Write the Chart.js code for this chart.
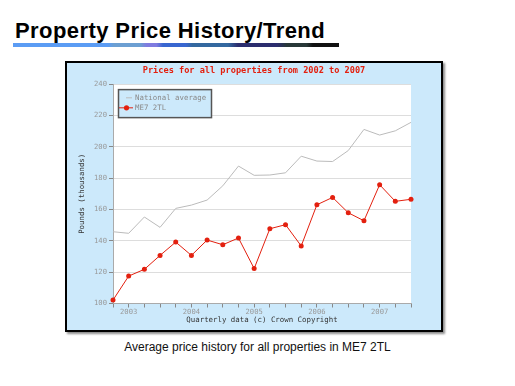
<!DOCTYPE html>
<html lang="en">
<head>
  <meta charset="UTF-8" />
  <title>Property Price History/Trend</title>
  <style>
    body { margin: 0; background: #fff; width: 515px; height: 386px; position: relative; overflow: hidden; }
    #pageTitle {
      position: absolute; left: 15px; top: 20px;
      font: bold 22px/22px "Liberation Sans", Arial, sans-serif; color: #000;
      letter-spacing: 0.42px; white-space: nowrap;
    }
    #rule {
      position: absolute; left: 13px; top: 43px; width: 326px; height: 4px;
      background: linear-gradient(to right,
        #5b9cf4 0%, #5b9cf4 29%, #6c9fd2 31%, #6c9fd2 39%, #7f7be0 41%, #7f7be0 44%,
        #3866d0 46%, #3866d0 53%, #33689f 55%, #33689f 66%, #2b2d6e 69%, #2b2d6e 81%,
        #283838 84%, #283838 90%, #111 92%, #111 100%);
    }
    #frame {
      position: absolute; left: 65px; top: 61px; width: 378px; height: 271px;
      box-sizing: border-box; border: 2px solid #000; background: #cce9fb;
      box-shadow: 2px 2px 2px rgba(0,0,0,0.45);
    }
    #caption {
      position: absolute; left: 0; top: 341px; width: 515px; text-align: center;
      font: 12px/12px "Liberation Sans", Arial, sans-serif; color: #111;
    }
  </style>
</head>
<body>
  <div id="pageTitle">Property Price History/Trend</div>
  <div id="rule"></div>
  <div id="frame"><canvas id="chart" width="374" height="267"></canvas></div>
  <div id="caption">Average price history for all properties in ME7 2TL</div>
  <script src="https://cdn.jsdelivr.net/npm/chart.js@4.4.0/dist/chart.umd.min.js"></script>
  <script>
// quarterly data, Q4 2002 .. Q3 2007
const quarters = ['', '2003', '', '', '', '2004', '', '', '', '2005', '', '', '', '2006', '', '', '', '2007', '', '']
const nationalAverage = [145.8, 144.8, 155.2, 148.6, 160.7, 162.8, 166.0, 175.1, 187.7, 181.8,
  182.0, 183.4, 194.0, 190.9, 190.6, 197.6, 211.1, 207.5, 210.2, 215.6]
const me7Prices = [102.2, 117.5, 121.8, 130.7, 139.2, 130.7, 140.5, 137.5, 141.8, 122.3,
  147.7, 150.3, 136.7, 163.0, 167.7, 157.9, 152.8, 175.8, 165.2, 166.5]
const yTicks = [100, 120, 140, 160, 180, 200, 220, 240]

const mono = '"DejaVu Sans Mono", "Liberation Mono", monospace'
const red = '#e3200f'
const grey = '#bbbbbb'

// white plot background
const plotBg = {
  id: 'plotBg',
  beforeDraw(chart) {
    const { ctx, chartArea: a } = chart
    ctx.save()
    ctx.fillStyle = '#fff'
    ctx.fillRect(a.left, a.top, a.right - a.left, a.bottom - a.top)
    ctx.restore()
  }
}

// boxed legend in the top-left of the plot
const boxLegend = {
  id: 'boxLegend',
  afterDatasetsDraw(chart) {
    const { ctx, chartArea: a } = chart
    const x = a.left + 5.5, y = a.top + 5.5
    ctx.save()
    ctx.fillStyle = '#cce9fb'
    ctx.strokeStyle = '#555'
    ctx.lineWidth = 1.5
    ctx.fillRect(x, y, 93, 28)
    ctx.strokeRect(x, y, 93, 28)
    ctx.font = '7.4px ' + mono
    ctx.textBaseline = 'middle'
    chart.data.datasets.forEach((ds, i) => {
      const ly = a.top + 13.7 + i * 10
      ctx.strokeStyle = ds.borderColor
      ctx.lineWidth = 1
      ctx.beginPath()
      if (ds.pointRadius > 0) {
        ctx.moveTo(a.left + 6, ly); ctx.lineTo(a.left + 20, ly)
      } else {
        ctx.moveTo(a.left + 13, ly); ctx.lineTo(a.left + 19, ly)
      }
      ctx.stroke()
      if (ds.pointRadius > 0) {
        ctx.fillStyle = ds.pointBackgroundColor
        ctx.beginPath()
        ctx.arc(a.left + 13.5, ly, 2.6, 0, Math.PI * 2)
        ctx.fill()
      }
      ctx.fillStyle = '#8a8a8a'
      ctx.fillText(ds.label, a.left + 22, ly + 0.5)
    })
    ctx.restore()
  }
}

new Chart(document.getElementById('chart'), {
  type: 'line',
  data: {
    labels: quarters,
    datasets: [{
      label: 'National average',
      data: nationalAverage,
      borderColor: grey,
      borderWidth: 1,
      pointRadius: 0,
      tension: 0
    }, {
      label: 'ME7 2TL',
      data: me7Prices,
      borderColor: red,
      borderWidth: 1,
      pointRadius: 2.5,
      pointBackgroundColor: red,
      pointBorderWidth: 0,
      tension: 0
    }]
  },
  options: {
    responsive: false,
    animation: false,
    layout: { padding: { left: 0, right: 0, top: 0, bottom: 4 } },
    plugins: {
      legend: { display: false },
      tooltip: { enabled: false },
      title: {
        display: true,
        text: 'Prices for all properties from 2002 to 2007',
        color: red,
        font: { family: mono, size: 8.6, weight: 'bold' },
        padding: { top: 2.6, bottom: 8.2 }
      }
    },
    scales: {
      x: {
        offset: false,
        afterFit(scale) { scale.height = 22.5 },
        border: { color: '#aaa' },
        grid: { drawOnChartArea: false, drawTicks: true, tickLength: 4, tickColor: '#888' },
        ticks: { autoSkip: false, maxRotation: 0, padding: 0, color: '#999', font: { family: mono, size: 7.2 } },
        title: {
          display: true,
          text: 'Quarterly data (c) Crown Copyright',
          color: '#333',
          font: { family: mono, size: 7.4 },
          padding: { top: 0, bottom: 1 }
        }
      },
      y: {
        min: 100,
        max: 240,
        afterBuildTicks(scale) { scale.ticks = yTicks.map(v => ({ value: v })) },
        afterFit(scale) { scale.width = 46 },
        border: { color: '#aaa' },
        grid: { color: '#dddddd', tickColor: '#888', tickLength: 4 },
        ticks: { padding: 2, color: '#999', font: { family: mono, size: 7.2 } },
        title: {
          display: true,
          text: 'Pounds (thousands)',
          color: '#333',
          font: { family: mono, size: 7.4 },
          padding: { top: 11, bottom: 0 }
        }
      },
      // empty right-hand gutter so the title stays centred on the frame
      gutter: {
        position: 'right',
        min: 0,
        max: 1,
        afterFit(scale) { scale.width = 30 },
        border: { display: false },
        grid: { display: false },
        ticks: { display: false }
      }
    }
  },
  plugins: [plotBg, boxLegend]
})
  </script>
</body>
</html>
